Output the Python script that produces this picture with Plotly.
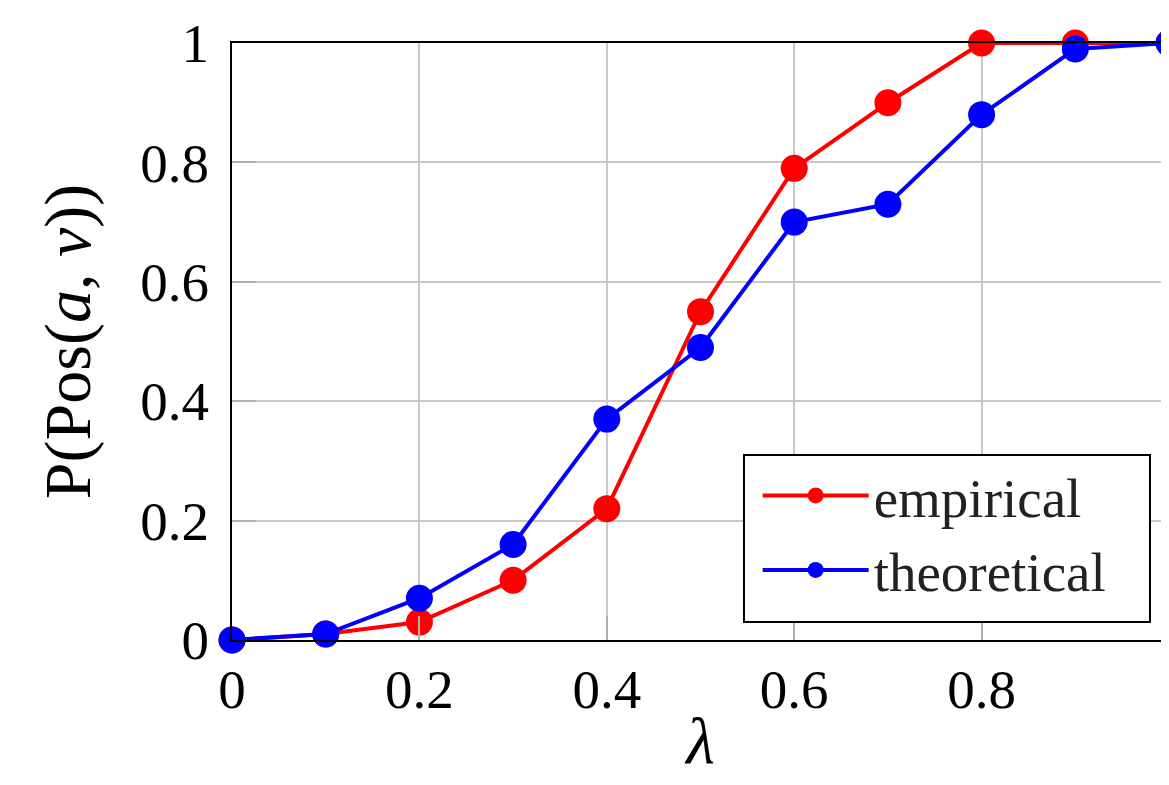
import plotly.graph_objects as go

lam = [0, 0.1, 0.2, 0.3, 0.4, 0.5, 0.6, 0.7, 0.8, 0.9, 1.0]
empirical = [0, 0.01, 0.03, 0.10, 0.22, 0.55, 0.79, 0.90, 1.0, 1.0, 1.0]
theoretical = [0, 0.01, 0.07, 0.16, 0.37, 0.49, 0.70, 0.73, 0.88, 0.99, 1.0]
tick_vals = [0, 0.2, 0.4, 0.6, 0.8, 1]
tick_text = ["0", "0.2", "0.4", "0.6", "0.8", "1"]

FONT = "Liberation Serif"
FS = 55

fig = go.Figure()
fig.add_trace(go.Scatter(x=lam, y=empirical, name="empirical", mode="lines+markers",
                         line=dict(color="#ff0000", width=4),
                         marker=dict(color="#ff0000", size=27), cliponaxis=False))
fig.add_trace(go.Scatter(x=lam, y=theoretical, name="theoretical", mode="lines+markers",
                         line=dict(color="#0000ff", width=4),
                         marker=dict(color="#0000ff", size=27), cliponaxis=False))

# legend frame (paper-coordinate box behind the legend)
fig.add_shape(type="rect", xref="paper", yref="paper",
              x0=0.5464, x1=0.9797, y0=0.0302, y1=0.3099,
              line=dict(color="black", width=2), fillcolor="white", layer="above")

fig.update_layout(
    width=1161, height=769,
    margin=dict(l=224, r=0, t=35, b=137),
    paper_bgcolor="white", plot_bgcolor="white",
    font=dict(family=FONT, size=FS, color="black"),
    showlegend=True,
    legend=dict(x=0.561, y=0.313, xanchor="left", yanchor="top",
                bgcolor="rgba(0,0,0,0)", borderwidth=0,
                font=dict(family=FONT, size=FS, color="#222222"),
                itemwidth=106, tracegroupgap=0),
    xaxis=dict(range=[0, 1], tickvals=tick_vals, ticktext=tick_text,
               showgrid=True, gridcolor="#c8c8c8", gridwidth=2,
               showline=True, linecolor="black", linewidth=2, mirror=True,
               ticks="inside", ticklen=24, tickwidth=2, tickcolor="#b0b0b0",
               zeroline=False, automargin=False,
               title=dict(text="<i>λ</i>", standoff=34),
               tickfont=dict(family=FONT, size=FS)),
    yaxis=dict(range=[0, 1], tickvals=tick_vals, ticktext=tick_text,
               showgrid=True, gridcolor="#c8c8c8", gridwidth=2,
               showline=True, linecolor="black", linewidth=2, mirror=False,
               ticks="inside", ticklen=24, tickwidth=2, tickcolor="#b0b0b0",
               zeroline=False, ticklabelstandoff=10, automargin=False,
               title=dict(text="P(Pos(<i>a</i>, <i>v</i>))", standoff=28),
               tickfont=dict(family=FONT, size=FS)),
)

fig.write_html("out.html")
